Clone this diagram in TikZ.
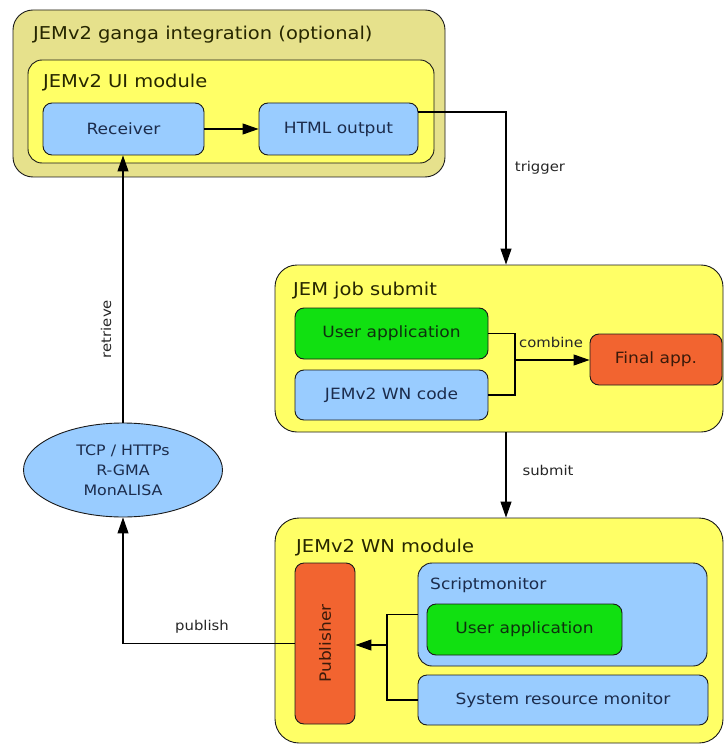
\documentclass[tikz,border=0pt]{standalone}
\usepackage{fontspec}
\setmainfont{DejaVu Sans}[FakeStretch=1.1]
\usetikzlibrary{arrows.meta,shapes.geometric,calc}

\definecolor{olivebg}{HTML}{E6E18C}
\definecolor{yellowbg}{HTML}{FFFF66}
\definecolor{bluebg}{HTML}{99CCFF}
\definecolor{greenbg}{HTML}{11E011}
\definecolor{orangebg}{HTML}{F26430}
\definecolor{titletxt}{HTML}{262600}
\definecolor{bluetxt}{HTML}{1C2C4C}
\definecolor{greentxt}{HTML}{0E300E}
\definecolor{orangetxt}{HTML}{3A1A0A}
\definecolor{edge}{HTML}{1A1A1A}

\tikzset{
  container/.style={draw=edge, line width=0.9pt, rounded corners=20pt, inner sep=0pt},
  innerbox/.style={draw=edge, line width=0.9pt, rounded corners=9pt, inner sep=0pt,
    font=\fontsize{15.5}{18}\selectfont},
  bluebox/.style={innerbox, fill=bluebg, text=bluetxt},
  greenbox/.style={innerbox, fill=greenbg, text=greentxt},
  orangebox/.style={innerbox, fill=orangebg, text=orangetxt},
  boxtitle/.style={anchor=base west, inner sep=0pt, text=titletxt,
    font=\fontsize{17.7}{20}\selectfont},
  subtitle/.style={anchor=base west, inner sep=0pt, text=bluetxt,
    font=\fontsize{15.5}{18}\selectfont},
  flowlabel/.style={inner sep=0pt, text=black!85, font=\fontsize{13.5}{15}\selectfont},
  flow/.style={draw=black, line width=1.1pt},
  arrowflow/.style={flow, -{Triangle[length=16pt,width=11pt]}},
}

\begin{document}
\begin{tikzpicture}[x=1pt,y=-1pt]
\useasboundingbox (0,0) rectangle (725,746);

% ---- ganga integration / UI module ----
\node[container, fill=olivebg, minimum width=432pt, minimum height=167pt] (ganga) at (229,93.5) {};
\node[boxtitle] (gangatitle) at (33,40) {JEMv2 ganga integration (optional)};
\node[container, fill=yellowbg, rounded corners=14pt, minimum width=406pt, minimum height=103pt] (ui) at (231,111.5) {};
\node[boxtitle] (uititle) at (43,88) {JEMv2 UI module};
\node[bluebox, minimum width=161pt, minimum height=52pt] (receiver) at (123.5,129) {Receiver};
\node[bluebox, minimum width=159pt, minimum height=52pt] (html) at (338.5,129) {HTML output};

% ---- job submission ----
\node[container, fill=yellowbg, rounded corners=22pt, minimum width=448pt, minimum height=167pt] (jobsub) at (499,348.5) {};
\node[boxtitle] (jobsubtitle) at (293,295) {JEM job submit};
\node[greenbox, minimum width=193pt, minimum height=51pt] (userapp) at (391.5,333.5) {User application};
\node[bluebox, minimum width=193pt, minimum height=50pt] (wncode) at (391.5,395) {JEMv2 WN code};
\node[orangebox, minimum width=132pt, minimum height=51pt] (final) at (656,359.5) {Final app.};

% ---- worker node module ----
\node[container, fill=yellowbg, rounded corners=24pt, minimum width=448pt, minimum height=225pt] (wnmod) at (499,630.5) {};
\node[boxtitle] (wntitle) at (296,552) {JEMv2 WN module};
\node[orangebox, minimum width=60pt, minimum height=161pt] (publisher) at (325,643.5) {};
\node[text=orangetxt, rotate=90, font=\fontsize{15.5}{18}\selectfont] (publabel) at (publisher.center) {Publisher};
\node[bluebox, rounded corners=14pt, minimum width=289pt, minimum height=103pt] (scriptmon) at (562.5,614.5) {};
\node[subtitle] (scripttitle) at (430,589) {Scriptmonitor};
\node[greenbox, minimum width=195pt, minimum height=51pt] (userapp2) at (524.5,629.5) {User application};
\node[bluebox, minimum width=290pt, minimum height=50pt] (sysres) at (563,700) {System resource monitor};

% ---- transport ----
\node[ellipse, draw=edge, line width=0.9pt, fill=bluebg, text=bluetxt, inner sep=0pt,
      minimum width=199pt, minimum height=94pt, align=center,
      font=\fontsize{14.4}{20}\selectfont] (transport) at (123,470)
      {TCP / HTTPs\\R-GMA\\MonALISA};

% ---- connectors ----
\draw[arrowflow] (receiver.east) -- (html.west);

\draw[arrowflow] ([yshift=17pt]html.east) -| ([xshift=7pt]jobsub.north);
\node[flowlabel] (triggerlbl) at (540,168) {trigger};

\coordinate (merge) at (515,360);
\draw[flow] (userapp.east) -| (merge);
\draw[flow] (wncode.east) -| (merge);
\draw[arrowflow] (merge) -- (final.west |- merge);
\node[flowlabel] (combinelbl) at (551,342) {combine};

\draw[arrowflow] ([xshift=7pt]jobsub.south) -- ([xshift=7pt]wnmod.north);
\node[flowlabel] (submitlbl) at (548,470) {submit};

\coordinate (gather) at (387,645);
\draw[flow] (scriptmon.west) -| (gather);
\draw[flow] (sysres.west) -| (gather);
\draw[arrowflow] (gather) -- (gather -| publisher.east);

\draw[arrowflow] (publisher.west) -| (transport.south);
\node[flowlabel] (publishlbl) at (202,627) {publish};

\draw[arrowflow] (transport.north) -- (transport.north |- receiver.south);
\node[flowlabel, rotate=90] (retrievelbl) at (106,329) {retrieve};
\end{tikzpicture}
\end{document}
